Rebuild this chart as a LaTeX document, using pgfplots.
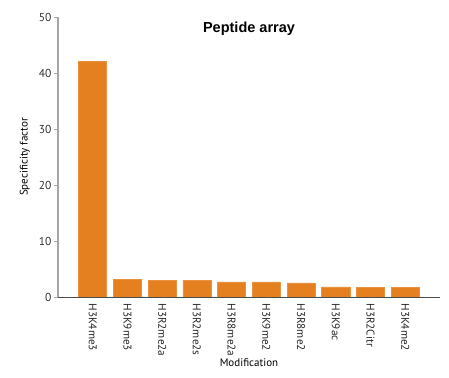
\documentclass[border=0pt]{standalone}
\usepackage{pgfplots}
\pgfplotsset{compat=1.18}
\usepackage{fontspec}
\setmainfont{PT Sans}
\newfontfamily\titlefont{Liberation Sans}
\definecolor{barorange}{RGB}{229,128,32}
\begin{document}
\begin{tikzpicture}
\useasboundingbox (0,0) rectangle (449pt,377pt);
\begin{axis}[
  at={(58pt,80pt)}, anchor=south west,
  scale only axis, width=382pt, height=280pt,
  xmin=-1, xmax=10, ymin=0, ymax=50,
  axis x line=bottom, axis y line=left,
  axis line style={-},
  x axis line style={draw=black!70, line width=0.8pt},
  y axis line style={draw=black!35, line width=1.2pt},
  xtick=data,
  xticklabels={H3K4me3,H3K9me3,H3R2me2a,H3R2me2s,H3R8me2a,H3K9me2,H3R8me2,H3K9ac,H3R2Citr,H3K4me2},
  x tick label style={rotate=-90, anchor=west, font=\fontsize{11.2}{12}\selectfont, black!85, xshift=-1pt},
  major x tick style={draw=none},
  ytick={0,10,20,30,40,50},
  y tick label style={font=\fontsize{11.5}{12}\selectfont, black!80, xshift=1pt},
  /pgf/number format/assume math mode=true,
  ytick style={draw=black!35, line width=0.8pt},
  tick align=outside, major tick length=4pt,
  ylabel={Specificity factor}, xlabel={Modification},
  ylabel style={font=\fontsize{11}{12}\selectfont, at={(axis description cs:-0.087,0.5)}, anchor=center},
  xlabel style={font=\fontsize{11}{12}\selectfont, at={(axis description cs:0.5,0)}, anchor=center, yshift=-66pt},
  title={\titlefont\bfseries Peptide array},
  title style={font=\fontsize{14.5}{15}\selectfont, at={(axis description cs:0.5,1)}, yshift=-7pt, anchor=north},
]
\addplot[ybar, bar width=0.81, fill=barorange, draw=barorange!85!white, line width=0.6pt] coordinates {
(0,42.0) (1,3.1) (2,2.9) (3,2.9) (4,2.7) (5,2.7) (6,2.5) (7,1.8) (8,1.7) (9,1.7)
};
\end{axis}
\end{tikzpicture}
\end{document}
